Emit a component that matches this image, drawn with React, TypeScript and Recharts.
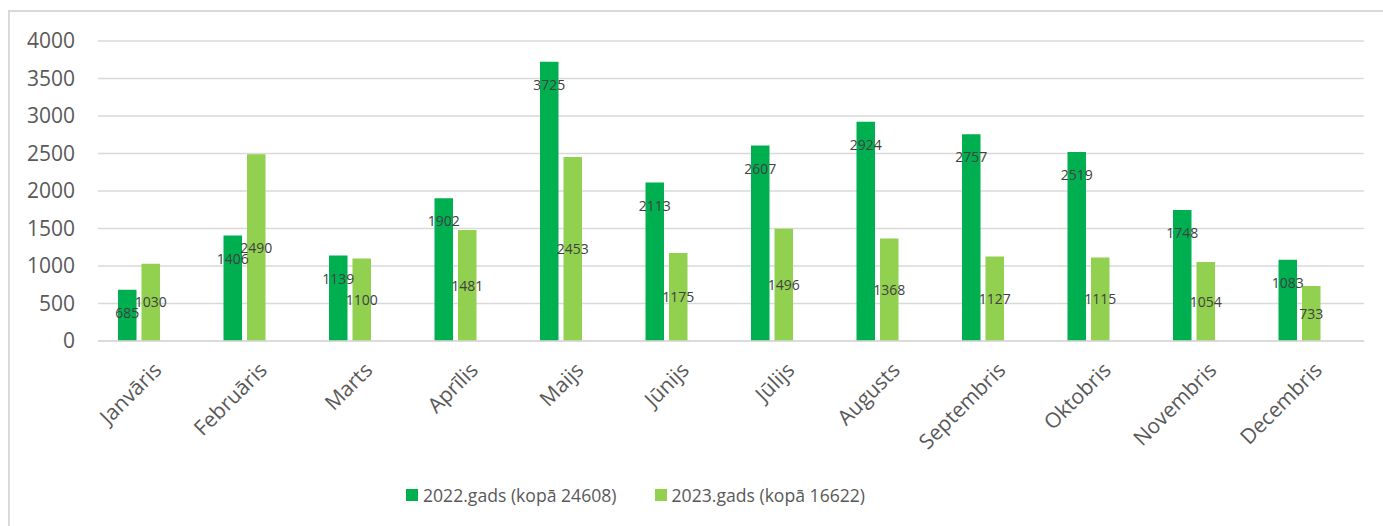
import React from 'react';
import { BarChart, Bar, XAxis, YAxis, CartesianGrid, LabelList, Legend } from 'recharts';

const months = ['Janvāris', 'Februāris', 'Marts', 'Aprīlis', 'Maijs', 'Jūnijs', 'Jūlijs', 'Augusts', 'Septembris', 'Oktobris', 'Novembris', 'Decembris'];
const values2022 = [685, 1406, 1139, 1902, 3725, 2113, 2607, 2924, 2757, 2519, 1748, 1083];
const values2023 = [1030, 2490, 1100, 1481, 2453, 1175, 1496, 1368, 1127, 1115, 1054, 733];
const yTicks = [0, 500, 1000, 1500, 2000, 2500, 3000, 3500, 4000];
const seriesNames = ['2022.gads (kopā 24608)', '2023.gads (kopā 16622)'];
const seriesColors = ['#00B050', '#92D050'];

const data = months.map((m, i) => ({ month: m, y2022: values2022[i], y2023: values2023[i] }));

const FONT = "'Open Sans', sans-serif";

const XTick = (props: any) => {
  const { x, y, payload } = props;
  return (
    <g transform={`translate(${x + 12},${y + 30.5}) rotate(-45)`}>
      <text x={0} y={0} textAnchor="end" fill="#595959" fontSize={21} fontFamily={FONT}>
        {payload.value}
      </text>
    </g>
  );
};

const TopLabel = (props: any) => {
  const { x, y, width, value } = props;
  return (
    <text x={x + width / 2} y={y + 23} dy="0.36em" textAnchor="middle" fill="#404040" fontSize={14} fontFamily={FONT}>
      {value}
    </text>
  );
};

const CenterLabel = (props: any) => {
  const { x, y, width, height, value } = props;
  return (
    <text x={x + width / 2} y={y + height / 2} dy="0.36em" textAnchor="middle" fill="#404040" fontSize={14} fontFamily={FONT}>
      {value}
    </text>
  );
};

const LegendContent = () => (
  <div style={{ display: 'flex', justifyContent: 'flex-start', alignItems: 'center', paddingLeft: 406, fontFamily: FONT, fontSize: 17.6, color: '#595959', height: 20, lineHeight: '20px' }}>
    {seriesNames.map((n, i) => (
      <div key={n} style={{ display: 'flex', alignItems: 'center', marginRight: i === 0 ? 38 : 0 }}>
        <span style={{ display: 'inline-block', width: 12, height: 12, background: seriesColors[i], marginRight: 5 }} />
        <span>{n}</span>
      </div>
    ))}
  </div>
);

export default function App() {
  return (
    <div style={{ position: 'absolute', left: 0, top: 0, width: 1383, height: 526, background: '#fff', overflow: 'hidden' }}>
      <div style={{ position: 'absolute', left: 8, top: 10, width: 1375, height: 516, borderTop: '2px solid #d9d9d9', borderLeft: '2px solid #d9d9d9', boxSizing: 'border-box' }} />
      <div style={{ position: 'absolute', left: 0, top: 0 }}>
        <BarChart width={1383} height={526} data={data} margin={{ top: 41, right: 19, bottom: 21, left: 0 }} barGap={5}>
          <CartesianGrid vertical={false} stroke="#d9d9d9" strokeWidth={1.3} />
          <XAxis dataKey="month" interval={0} tickLine={false} axisLine={{ stroke: '#d9d9d9', strokeWidth: 1.3 }} tickSize={0} tickMargin={0} height={144} tick={<XTick />} />
          <YAxis domain={[0, 4000]} ticks={yTicks} width={98} tickLine={false} axisLine={false} tickSize={0} tickMargin={23} tick={{ fill: '#595959', fontSize: 21, fontFamily: FONT }} />
          <Legend verticalAlign="bottom" height={20} content={<LegendContent />} />
          <Bar dataKey="y2022" name={seriesNames[0]} fill={seriesColors[0]} barSize={18.5} isAnimationActive={false}>
            <LabelList dataKey="y2022" content={<TopLabel />} />
          </Bar>
          <Bar dataKey="y2023" name={seriesNames[1]} fill={seriesColors[1]} barSize={18.5} isAnimationActive={false}>
            <LabelList dataKey="y2023" content={<CenterLabel />} />
          </Bar>
          <Bar dataKey="reserved" legendType="none" fill="transparent" barSize={18.5} isAnimationActive={false} />
        </BarChart>
      </div>
    </div>
  );
}
